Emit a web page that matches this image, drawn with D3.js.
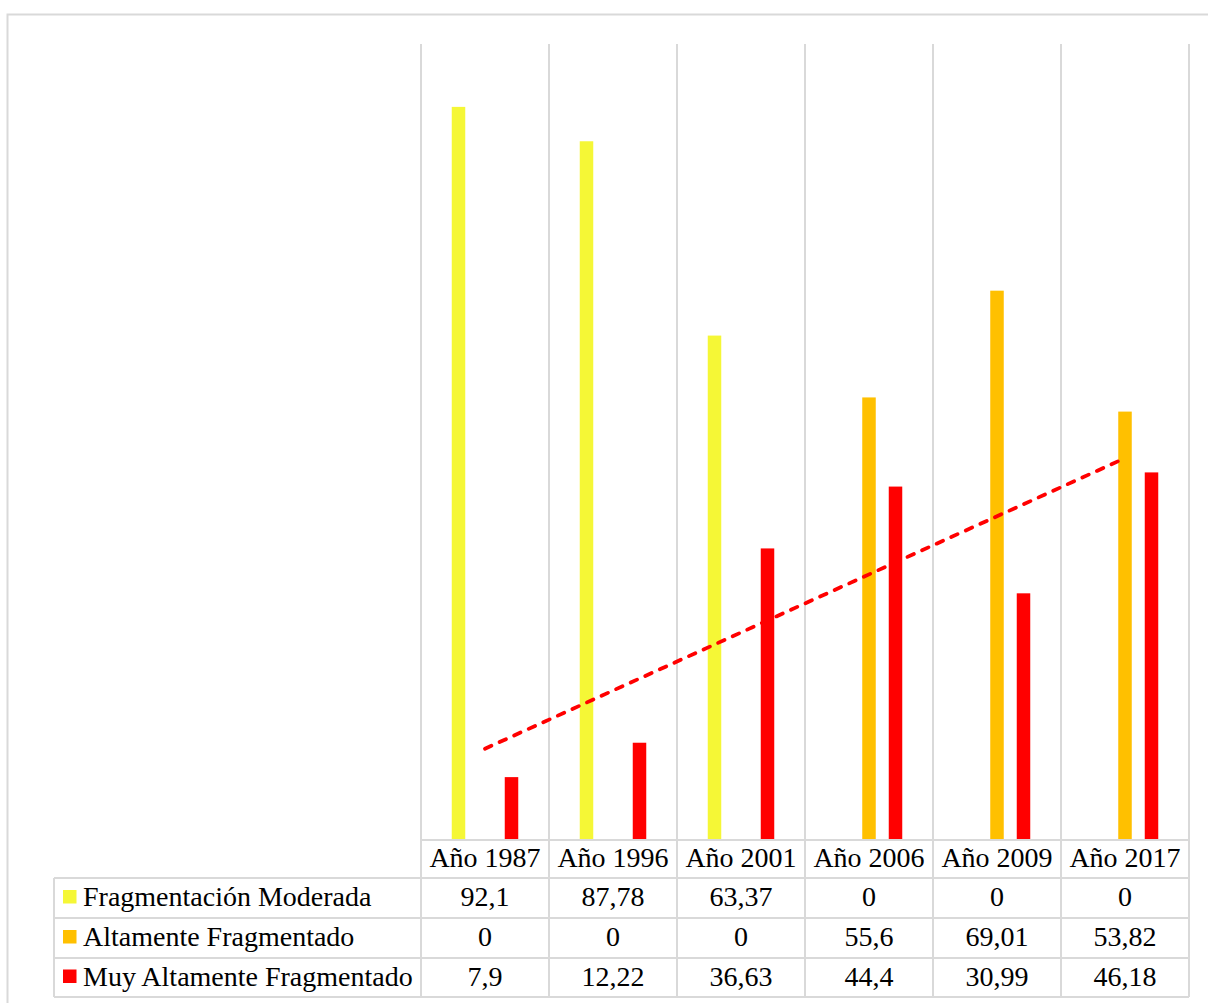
<!DOCTYPE html>
<html>
<head>
<meta charset="utf-8">
<script src="https://cdn.jsdelivr.net/npm/d3@7"></script>
<style>
  html, body { margin: 0; padding: 0; background: #ffffff; }
  svg { display: block; }
  text { font-family: "Liberation Serif", "Times New Roman", serif; fill: #000; }
</style>
</head>
<body>
<svg id="chart" width="1208" height="1003"></svg>
<script>
// Fragmentation classes per survey year (%)
const categories = ["Año 1987", "Año 1996", "Año 2001", "Año 2006", "Año 2009", "Año 2017"];
const seriesNames = ["Fragmentación Moderada", "Altamente Fragmentado", "Muy Altamente Fragmentado"];
const moderada = [92.1, 87.78, 63.37, 0, 0, 0];
const altamente = [0, 0, 0, 55.6, 69.01, 53.82];
const muyAltamente = [7.9, 12.22, 36.63, 44.4, 30.99, 46.18];
const valueLabels = [
  ["92,1", "87,78", "63,37", "0", "0", "0"],
  ["0", "0", "0", "55,6", "69,01", "53,82"],
  ["7,9", "12,22", "36,63", "44,4", "30,99", "46,18"]
];
const colors = ["#F5F736", "#FFC000", "#FF0000"];
const yDomain = [0, 100];

const seriesValues = [moderada, altamente, muyAltamente];
const svg = d3.select("#chart");
const gridColor = "#d9d9d9";

// chart frame
svg.append("rect")
  .attr("x", 7.5).attr("y", 14.5)
  .attr("width", 1300).attr("height", 1100)
  .attr("fill", "#fff").attr("stroke", gridColor).attr("stroke-width", 2);

const plot = { left: 421, right: 1189, top: 44, bottom: 840 };

const x = d3.scaleBand().domain(categories).range([plot.left, plot.right]).padding(0);
const y = d3.scaleLinear().domain(yDomain).range([plot.bottom, plot.top]);
const offset = d3.scalePoint().domain(seriesNames).range([-26.5, 26.5]);
const barW = 13.5;

// vertical category gridlines
const bounds = categories.map(c => x(c)).concat([plot.right]);
svg.append("g").selectAll("line").data(bounds).join("line")
  .attr("x1", d => d).attr("x2", d => d)
  .attr("y1", plot.top).attr("y2", plot.bottom)
  .attr("stroke", gridColor).attr("stroke-width", 2);

// bars
seriesNames.forEach((name, si) => {
  svg.append("g").selectAll("rect")
    .data(categories.map((c, i) => ({ c, v: seriesValues[si][i] })))
    .join("rect")
    .attr("x", d => x(d.c) + x.bandwidth() / 2 + offset(name) - barW / 2)
    .attr("y", d => y(d.v))
    .attr("width", barW)
    .attr("height", d => y(0) - y(d.v))
    .attr("fill", colors[si]);
});

// linear trend of the "Muy Altamente Fragmentado" series
const idx = muyAltamente.map((_, i) => i + 1);
const mx = d3.mean(idx), my = d3.mean(muyAltamente);
const slope = d3.sum(idx, (k, i) => (k - mx) * (muyAltamente[i] - my)) / d3.sum(idx, k => (k - mx) ** 2);
const intercept = my - slope * mx;
const trend = [1, categories.length].map(k => ({ c: categories[k - 1], v: intercept + slope * k }));
svg.append("path")
  .datum(trend)
  .attr("d", d3.line().x(d => x(d.c) + x.bandwidth() / 2).y(d => y(d.v)))
  .attr("fill", "none")
  .attr("stroke", "#FF0000")
  .attr("stroke-width", 3.75)
  .attr("stroke-linecap", "round")
  .attr("stroke-dasharray", "7,9");

// data table
const rowLines = [840, 878, 918, 958, 997];
const tableLeft = 54;
const table = svg.append("g").attr("stroke", gridColor).attr("stroke-width", 2);
// horizontal lines
table.append("line").attr("x1", plot.left).attr("x2", plot.right).attr("y1", rowLines[0]).attr("y2", rowLines[0]);
rowLines.slice(1).forEach(ry => {
  table.append("line").attr("x1", tableLeft).attr("x2", plot.right).attr("y1", ry).attr("y2", ry);
});
// vertical lines
table.append("line").attr("x1", tableLeft).attr("x2", tableLeft).attr("y1", rowLines[1]).attr("y2", rowLines[4]);
bounds.forEach(bx => {
  table.append("line").attr("x1", bx).attr("x2", bx).attr("y1", rowLines[0]).attr("y2", rowLines[4]);
});

const fontSize = 28;
// header row: category labels
svg.append("g").selectAll("text").data(categories).join("text")
  .attr("x", d => x(d) + x.bandwidth() / 2)
  .attr("y", (rowLines[0] + rowLines[1]) / 2)
  .attr("dy", "0.3em")
  .attr("text-anchor", "middle")
  .attr("font-size", fontSize)
  .text(d => d);

// value rows with legend keys
seriesNames.forEach((name, si) => {
  const cy = (rowLines[si + 1] + rowLines[si + 2]) / 2;
  svg.append("rect")
    .attr("x", 63).attr("y", cy - 8)
    .attr("width", 13.5).attr("height", 13.5)
    .attr("fill", colors[si]);
  svg.append("text")
    .attr("x", 83).attr("y", cy).attr("dy", "0.3em")
    .attr("font-size", fontSize)
    .text(name);
  svg.append("g").selectAll("text").data(categories).join("text")
    .attr("x", d => x(d) + x.bandwidth() / 2)
    .attr("y", cy).attr("dy", "0.3em")
    .attr("text-anchor", "middle")
    .attr("font-size", fontSize)
    .text((d, i) => valueLabels[si][i]);
});
</script>
</body>
</html>
